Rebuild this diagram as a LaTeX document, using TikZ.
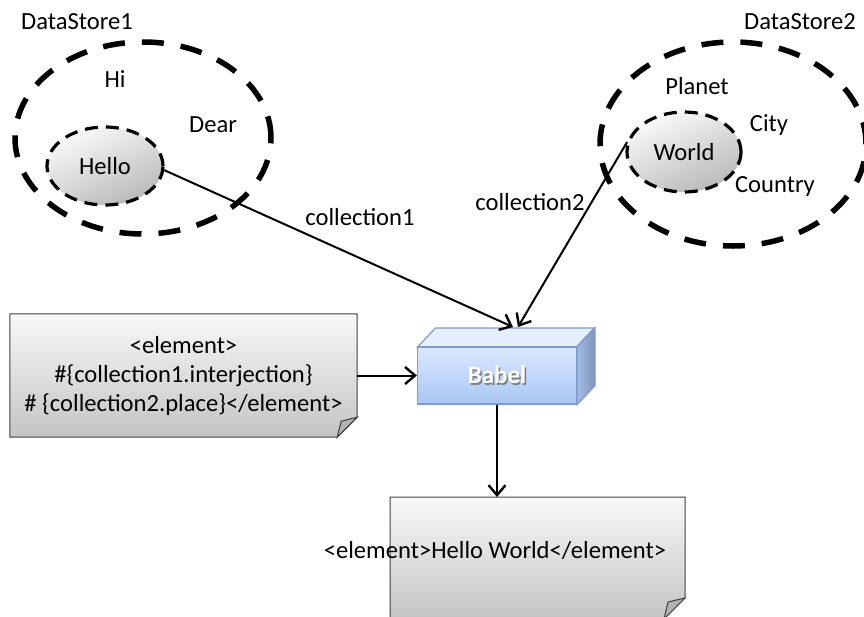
\documentclass[tikz,border=0pt]{standalone}
\usepackage{fontspec}
\setmainfont{Carlito}
\usetikzlibrary{shapes.geometric,arrows.meta,backgrounds}
\definecolor{docTop}{RGB}{248,248,248}
\definecolor{docBot}{RGB}{196,196,196}
\definecolor{boxTop}{RGB}{218,232,253}
\definecolor{boxBot}{RGB}{168,198,245}
\definecolor{boxSide}{RGB}{160,186,228}
\definecolor{boxEdge}{RGB}{125,155,205}
\definecolor{itemA}{RGB}{250,250,250}
\definecolor{itemB}{RGB}{185,185,185}
\begin{document}
\begin{tikzpicture}[x=1pt,y=-1pt,
  font=\fontsize{24.6}{29}\selectfont,
  store/.style={ellipse,draw,line width=5.5pt,dash pattern=on 22pt off 17pt,inner sep=0pt},
  item/.style={ellipse,draw,line width=3.2pt,dash pattern=on 13pt off 8pt,inner sep=0pt,
     top color=itemA,bottom color=itemB,shading angle=25},
  lbl/.style={inner sep=1pt},
  conn/.style={line width=2pt,-{Straight Barb[length=10pt,width=17pt,line width=2.4pt]}},
  docshape/.style={draw=black!75,line width=1pt,top color=docTop,bottom color=docBot},
  fold/.style={draw=black!75,line width=1pt,fill=black!30}]
\useasboundingbox (0,0) rectangle (864,616);

% Data store 1
\node[lbl] (ds1) at (77,22) {DataStore1};
\node[store,minimum width=256pt,minimum height=192pt] (s1) at (143,138) {};
\node[lbl] (hi) at (115,79) {Hi};
\node[lbl] (dear) at (213,125) {Dear};
\node[item,minimum width=116pt,minimum height=78pt] (hello) at (105,166) {Hello};

% Data store 2
\node[lbl] (ds2) at (800,22) {DataStore2};
\node[store,minimum width=266pt,minimum height=204pt] (s2) at (733,144) {};
\node[lbl] (planet) at (697,86) {Planet};
\node[lbl] (city) at (769,125) {City};
\node[lbl] (country) at (775,186) {Country};
\node[item,minimum width=114pt,minimum height=80pt] (world) at (684,152) {World};

% Babel box
\draw[draw=boxEdge,line width=1.2pt,fill=boxTop!70!white]
  (417.5,347) -- (435.5,328) -- (594.5,328) -- (576.5,347) -- cycle;
\node[draw=boxEdge,line width=1.2pt,top color=boxTop,bottom color=boxBot,
      minimum width=159pt,minimum height=57pt,inner sep=0pt,
      font=\fontsize{25}{29}\selectfont\bfseries] (babel) at (497,375.5)
  {\rlap{\hspace{1.5pt}\raisebox{-1.8pt}{\textcolor{black!50}{Babel}}}\textcolor{white}{Babel}};
\draw[draw=boxEdge,line width=1.2pt,left color=boxSide,right color=boxSide!80!black]
  (babel.north east) -- ([shift={(18,-19)}]babel.north east)
  -- ([shift={(18,-19)}]babel.south east) -- (babel.south east) -- cycle;

% Template document
\node[minimum width=347pt,minimum height=123pt,inner sep=0pt,align=center] (tmpl) at (183.5,375.5)
  {<element>\\\#\{collection1.interjection\}\\\# \{collection2.place\}</element>};
\begin{pgfonlayer}{background}
\draw[docshape] (tmpl.north west) -- (tmpl.north east) -- ([yshift=20pt]tmpl.south east)
  -- ([xshift=-20pt]tmpl.south east) -- (tmpl.south west) -- cycle;
\draw[fold] ([xshift=-20pt]tmpl.south east) -- ([yshift=20pt]tmpl.south east)
  -- ([shift={(-16,-16)}]tmpl.south east) -- cycle;
\end{pgfonlayer}

% Output document
\coordinate (onw) at (390,497);
\coordinate (ose) at (685,619);
\draw[docshape] (onw) -- (onw -| ose) -- ([yshift=21pt]ose) -- ([xshift=-21pt]ose) -- (onw |- ose) -- cycle;
\draw[fold] ([xshift=-21pt]ose) -- ([yshift=21pt]ose) -- ([shift={(-17,-17)}]ose) -- cycle;
\node[lbl] (out) at (495,550) {<element>Hello World</element>};

% Connectors
\coordinate (b1) at (513,327);
\coordinate (b2) at (518,327);
\draw[conn] (hello.-4) -- (b1);
\draw[conn] (world.170) -- (b2);
\draw[conn] (tmpl.east) -- (babel.west);
\draw[conn] (babel.south) -- (babel.south |- onw);

\node[lbl] (c1) at (360,217) {collection1};
\node[lbl] (c2) at (530,202) {collection2};
\end{tikzpicture}
\end{document}
